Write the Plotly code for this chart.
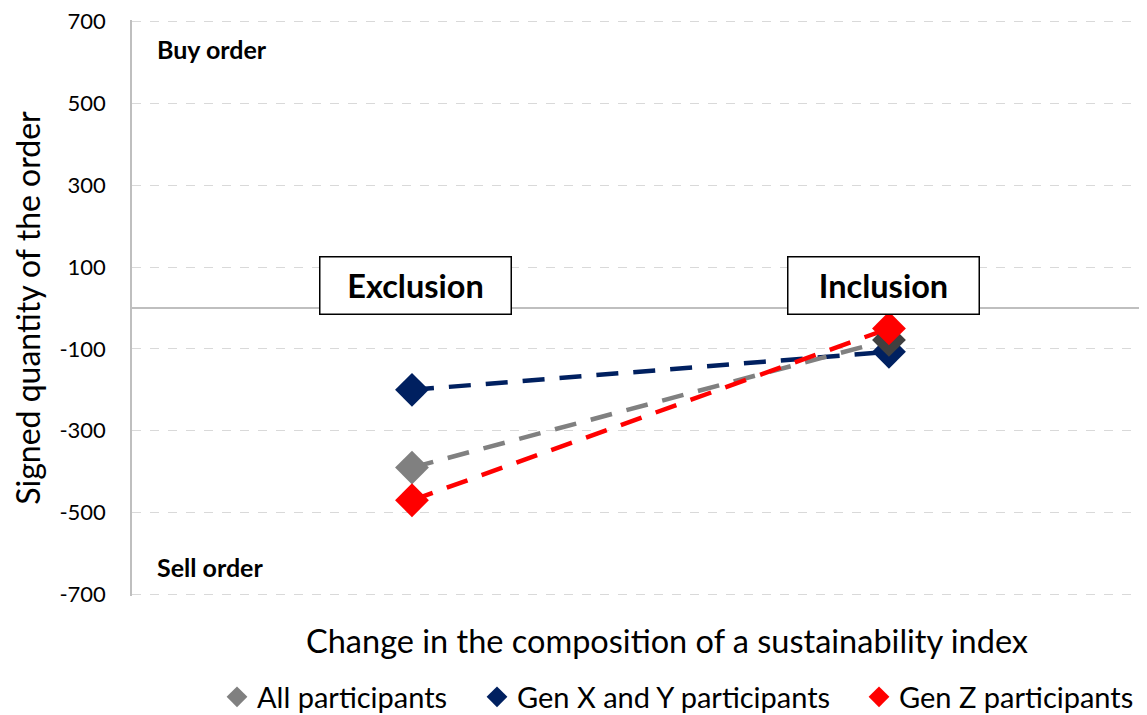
import plotly.graph_objects as go

categories = ["Exclusion", "Inclusion"]
series_names = ["All participants", "Gen X and Y participants", "Gen Z participants"]
all_participants = [-390, -78]
gen_xy = [-200, -107]
gen_z = [-470, -50]
y_ticks = [-700, -500, -300, -100, 100, 300, 500, 700]

FONT = "Lato"
values = {
    "All participants": all_participants,
    "Gen X and Y participants": gen_xy,
    "Gen Z participants": gen_z,
}
line_colors = {
    "All participants": "#808080",
    "Gen X and Y participants": "#002060",
    "Gen Z participants": "#FF0000",
}
marker_colors = {
    "All participants": ["#808080", "#404040"],
    "Gen X and Y participants": "#002060",
    "Gen Z participants": "#FF0000",
}
legend_ids = {"All participants": "legend", "Gen X and Y participants": "legend2",
              "Gen Z participants": "legend3"}

fig = go.Figure()
draw_order = ["Gen X and Y participants", "All participants", "Gen Z participants"]
for name in draw_order:
    fig.add_trace(go.Scatter(
        x=categories, y=values[name], mode="lines", name=name,
        line=dict(color=line_colors[name], width=4.5, dash="22px,15px"),
        showlegend=False, hoverinfo="skip",
    ))
for name in draw_order:
    fig.add_trace(go.Scatter(
        x=categories, y=values[name], mode="markers", name=name,
        marker=dict(symbol="diamond", size=26, color=marker_colors[name], line=dict(width=0)),
        showlegend=False,
    ))
for name in series_names:
    fig.add_trace(go.Scatter(
        x=[None], y=[None], mode="markers", name=name,
        marker=dict(symbol="diamond", size=18, color=line_colors[name]),
        showlegend=True, legend=legend_ids[name],
    ))

def leg(xpx):
    return dict(orientation="h", xref="container", yref="container",
                x=xpx / 1139, xanchor="left", y=18 / 707, yanchor="middle",
                font=dict(size=29, family=FONT), itemwidth=30,
                bgcolor="rgba(0,0,0,0)")

fig.update_layout(
    width=1139, height=707,
    margin=dict(l=124, r=0, t=12, b=119),
    plot_bgcolor="white", paper_bgcolor="white",
    font=dict(family=FONT, color="#000000", size=22),
    showlegend=True,
    legend=leg(209), legend2=leg(469), legend3=leg(851),
    xaxis=dict(
        type="category", range=[-0.587, 1.541],
        showticklabels=False, showgrid=False, zeroline=False, showline=False,
    ),
    yaxis=dict(
        range=[-704, 704], tickvals=y_ticks, ticktext=[str(v) for v in y_ticks],
        tickfont=dict(size=22, family=FONT), ticks="", ticklabelstandoff=20,
        ticklabeloverflow="allow",
        showgrid=True, gridcolor="#d9d9d9", griddash="dash", gridwidth=1,
        zeroline=True, zerolinecolor="#bfbfbf", zerolinewidth=1.5,
        showline=True, linecolor="#bfbfbf", linewidth=1.5,
        title=dict(text="Signed quantity of the order", font=dict(size=32, family=FONT), standoff=18),
    ),
)

fig.add_annotation(x=(667 - 132) / 1015, y=(588 - 632) / 576, xref="paper", yref="paper",
                   xanchor="center", yanchor="middle",
                   text="Change in the composition of a sustainability index",
                   showarrow=False, font=dict(size=32.5, family=FONT))
fig.add_annotation(x="Exclusion", y=56, xref="x", yref="y", text="<b>Exclusion</b>",
                   showarrow=False, font=dict(size=32.5, family=FONT), bgcolor="white",
                   bordercolor="#000000", borderwidth=1.5, borderpad=0, width=190, height=56,
                   xshift=4)
fig.add_annotation(x="Inclusion", y=56, xref="x", yref="y", text="<b>Inclusion</b>",
                   showarrow=False, font=dict(size=32.5, family=FONT), bgcolor="white",
                   bordercolor="#000000", borderwidth=1.5, borderpad=0, width=190, height=56,
                   xshift=-5)
fig.add_annotation(x=0.0227, y=633, xref="paper", yref="y", xanchor="left", text="<b>Buy order</b>",
                   showarrow=False, font=dict(size=25, family=FONT))
fig.add_annotation(x=0.0227, y=-633, xref="paper", yref="y", xanchor="left", text="<b>Sell order</b>",
                   showarrow=False, font=dict(size=25, family=FONT))

fig.write_html("out.html")
